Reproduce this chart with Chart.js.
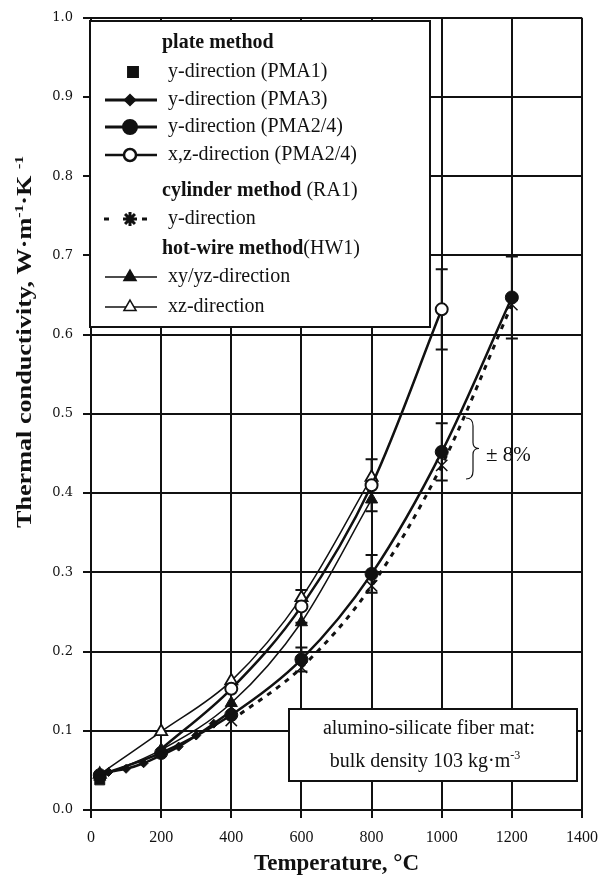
<!DOCTYPE html>
<html>
<head>
<meta charset="utf-8">
<script src="https://cdn.jsdelivr.net/npm/chart.js@4.4.1/dist/chart.umd.min.js"></script>
<style>
  html, body { margin: 0; padding: 0; background: #fff; }
  canvas { display: block; }
</style>
</head>
<body>
<canvas id="chart" width="601" height="876"></canvas>
<script>
// values: temperature (°C) and thermal conductivity (W/mK)
const pma1T = [25];
const pma1K = [0.038];

const pma3T = [50, 100, 150, 200, 250, 300, 350, 400];
const pma3K = [0.048, 0.052, 0.059, 0.069, 0.080, 0.094, 0.109, 0.125];

const pma24yT = [25, 200, 400, 600, 800, 1000, 1200];
const pma24yK = [0.044, 0.072, 0.120, 0.190, 0.298, 0.452, 0.647];

const pma24xzT = [200, 400, 600, 800, 1000];
const pma24xzK = [0.077, 0.153, 0.257, 0.410, 0.632];

const ra1T = [400, 600, 800, 1000, 1200];
const ra1K = [0.113, 0.180, 0.283, 0.435, 0.638];

const hwXyT = [25, 200, 400, 600, 800];
const hwXyK = [0.042, 0.076, 0.135, 0.237, 0.392];

const hwXzT = [25, 200, 400, 600, 800];
const hwXzK = [0.045, 0.099, 0.163, 0.268, 0.420];

// ±8 % error bars are drawn on these temperatures
const errTemps = [600, 800, 1000, 1200];
const errPct = 0.08;

const xTicks = [0, 200, 400, 600, 800, 1000, 1200, 1400];

const toPts = (T, K) => T.map((t, i) => ({x: t, y: K[i]}));
const ink = '#111';

const serif = '"Liberation Serif", "Times New Roman", serif';

function richWidth(ctx, parts, size, bold) {
    let total = 0;
    parts.forEach(p => {
        ctx.font = (bold ? 'bold ' : '') + (p[1] ? size * 0.6 : size) + 'px ' + serif;
        total += ctx.measureText(p[0]).width;
    });
    return total;
}

function drawRich(ctx, parts, x, y, size, bold) {
    // parts: [text, isSuperscript]
    const f = (s) => (bold ? 'bold ' : '') + s + 'px ' + serif;
    let cx = x - richWidth(ctx, parts, size, bold) / 2;
    ctx.textAlign = 'left';
    ctx.textBaseline = 'alphabetic';
    parts.forEach(p => {
        ctx.font = f(p[1] ? size * 0.6 : size);
        ctx.fillText(p[0], cx, p[1] ? y - size * 0.4 : y);
        cx += ctx.measureText(p[0]).width;
    });
}

const errorBars = {
    id: 'errorBars',
    beforeDatasetsDraw(chart) {
        const {ctx, scales: {x, y}} = chart;
        ctx.save();
        ctx.strokeStyle = ink;
        ctx.lineWidth = 2;
        [[pma24yT, pma24yK], [pma24xzT, pma24xzK]].forEach(([T, K]) => {
            T.forEach((t, i) => {
                if (!errTemps.includes(t)) return;
                const px = x.getPixelForValue(t);
                const hi = y.getPixelForValue(K[i] * (1 + errPct));
                const lo = y.getPixelForValue(K[i] * (1 - errPct));
                ctx.beginPath();
                ctx.moveTo(px, hi); ctx.lineTo(px, lo);
                ctx.moveTo(px - 6, hi); ctx.lineTo(px + 6, hi);
                ctx.moveTo(px - 6, lo); ctx.lineTo(px + 6, lo);
                ctx.stroke();
            });
        });
        ctx.restore();
    }
};

const legendRows = [
    {head: ['plate method', ''], y: 43},
    {label: 'y-direction (PMA1)', y: 72, style: 'rect', r: 7, fill: ink, line: 0},
    {label: 'y-direction (PMA3)', y: 100, style: 'rectRot', r: 4.5, fill: ink, line: 3},
    {label: 'y-direction (PMA2/4)', y: 127, style: 'circle', r: 6.5, fill: ink, line: 3},
    {label: 'x,z-direction (PMA2/4)', y: 155, style: 'circle', r: 6, fill: '#fff', line: 2.5},
    {head: ['cylinder method', ' (RA1)'], y: 191},
    {label: 'y-direction', y: 219, style: 'star', r: 7, fill: ink, line: 3, dash: true},
    {head: ['hot-wire method', '(HW1)'], y: 249},
    {label: 'xy/yz-direction', y: 277, style: 'triangle', r: 7, fill: ink, line: 1.5},
    {label: 'xz-direction', y: 307, style: 'triangle', r: 7, fill: '#fff', line: 1.5}
];

const boxes = {
    id: 'boxes',
    afterDatasetsDraw(chart) {
        const {ctx} = chart;
        ctx.save();
        // legend box
        ctx.fillStyle = '#fff';
        ctx.strokeStyle = ink;
        ctx.lineWidth = 2;
        ctx.fillRect(90, 21, 340, 306);
        ctx.strokeRect(90, 21, 340, 306);
        legendRows.forEach(r => {
            ctx.fillStyle = ink;
            ctx.textBaseline = 'middle';
            ctx.textAlign = 'left';
            if (r.head) {
                ctx.font = 'bold 20px ' + serif;
                ctx.fillText(r.head[0], 162, r.y);
                const w = ctx.measureText(r.head[0]).width;
                ctx.font = '20px ' + serif;
                ctx.fillText(r.head[1], 162 + w, r.y);
                return;
            }
            ctx.font = '20px ' + serif;
            ctx.fillText(r.label, 168, r.y);
            if (r.line) {
                ctx.beginPath();
                ctx.lineWidth = r.line;
                ctx.setLineDash(r.dash ? [5, 33] : []);
                ctx.moveTo(r.dash ? 104 : 105, r.y);
                ctx.lineTo(157, r.y);
                ctx.stroke();
                ctx.setLineDash([]);
            }
            ctx.fillStyle = r.fill;
            ctx.strokeStyle = ink;
            Chart.helpers.drawPoint(ctx, {pointStyle: r.style, radius: r.r, rotation: 0,
                borderWidth: r.style === 'star' ? 2 : (r.fill === ink ? 1 : 2)}, r.style === 'rect' ? 133 : 130, r.y);
        });

        // material box
        ctx.fillStyle = '#fff';
        ctx.lineWidth = 2;
        ctx.fillRect(289, 709, 288, 72);
        ctx.strokeRect(289, 709, 288, 72);
        ctx.fillStyle = ink;
        drawRich(ctx, [['alumino-silicate fiber mat:', false]], 429, 734, 20, false);
        drawRich(ctx, [['bulk density 103 kg·m', false], ['-3', true]], 425, 767, 20, false);

        // ±8 % brace
        ctx.strokeStyle = ink;
        ctx.lineWidth = 1.2;
        ctx.beginPath();
        const bx = 466, top = 418, bot = 479, mid = (top + bot) / 2;
        ctx.moveTo(bx, top);
        ctx.quadraticCurveTo(bx + 7, top, bx + 7, top + 8);
        ctx.lineTo(bx + 7, mid - 6);
        ctx.quadraticCurveTo(bx + 7, mid, bx + 13, mid);
        ctx.quadraticCurveTo(bx + 7, mid, bx + 7, mid + 6);
        ctx.lineTo(bx + 7, bot - 8);
        ctx.quadraticCurveTo(bx + 7, bot, bx, bot);
        ctx.stroke();
        ctx.font = '21px ' + serif;
        ctx.textAlign = 'left';
        ctx.textBaseline = 'middle';
        ctx.fillText('± 8%', 486, 455);
        ctx.restore();
    },
    afterDraw(chart) {
        const {ctx, chartArea} = chart;
        ctx.save();
        ctx.fillStyle = ink;
        drawRich(ctx, [['Temperature, °C', false]], (chartArea.left + chartArea.right) / 2, 870, 23, true);
        // y title: condensed serif, stretched to the length seen in the figure
        const yParts = [['Thermal conductivity, W·m', false], ['-1', true], ['·K ', false], ['-1', true]];
        const w = richWidth(ctx, yParts, 21, true);
        ctx.translate(31, 342);
        ctx.rotate(-Math.PI / 2);
        ctx.scale(372 / w, 1);
        drawRich(ctx, yParts, 0, 0, 21, true);
        ctx.restore();
    }
};

const base = {
    borderColor: ink,
    pointBorderColor: ink,
    cubicInterpolationMode: 'monotone',
    fill: false
};

new Chart(document.getElementById('chart'), {
    type: 'line',
    data: {
        datasets: [
            Object.assign({}, base, {label: 'y-direction (PMA1)', data: toPts(pma1T, pma1K), showLine: false,
                pointStyle: 'rect', pointRadius: 7, pointBackgroundColor: ink, pointBorderWidth: 1}),
            Object.assign({}, base, {label: 'y-direction (PMA3)', data: toPts(pma3T, pma3K), borderWidth: 2.5,
                pointStyle: 'rectRot', pointRadius: 4.5, pointBackgroundColor: ink, pointBorderWidth: 1}),
            Object.assign({}, base, {label: 'y-direction (PMA2/4)', data: toPts(pma24yT, pma24yK), borderWidth: 2.5,
                pointStyle: 'circle', pointRadius: 6.5, pointBackgroundColor: ink, pointBorderWidth: 1}),
            Object.assign({}, base, {label: 'x,z-direction (PMA2/4)', data: toPts(pma24xzT, pma24xzK), borderWidth: 2.5,
                pointStyle: 'circle', pointRadius: [0, 6, 6, 6, 6], pointBackgroundColor: '#fff', pointBorderWidth: 2}),
            Object.assign({}, base, {label: 'y-direction (RA1)', data: toPts(ra1T, ra1K), borderWidth: 3, borderDash: [5, 6],
                pointStyle: 'crossRot', pointRadius: 8, pointBorderWidth: 1.5}),
            Object.assign({}, base, {label: 'xy/yz-direction (HW1)', data: toPts(hwXyT, hwXyK), borderWidth: 1.5,
                pointStyle: 'triangle', pointRadius: 7, pointBackgroundColor: ink, pointBorderWidth: 1}),
            Object.assign({}, base, {label: 'xz-direction (HW1)', data: toPts(hwXzT, hwXzK), borderWidth: 1.5,
                pointStyle: 'triangle', pointRadius: 7, pointBackgroundColor: '#fff', pointBorderWidth: 1.8})
        ]
    },
    options: {
        responsive: false,
        animation: false,
        devicePixelRatio: 1,
        layout: {padding: {left: 0, right: 19, top: 12, bottom: 0}},
        plugins: {legend: {display: false}, tooltip: {enabled: false}},
        scales: {
            x: {
                type: 'linear', min: 0, max: 1400,
                afterBuildTicks: s => { s.ticks = xTicks.map(v => ({value: v})); },
                afterFit: s => { s.height = 66; s.paddingRight = 0; s.paddingLeft = 0; },
                grid: {color: ink, lineWidth: 2, tickLength: 8},
                border: {color: ink, width: 2},
                ticks: {color: ink, padding: 10, maxRotation: 0, callback: v => String(v),
                    font: {family: serif, size: 16}}
            },
            y: {
                min: 0, max: 1,
                afterFit: s => { s.width = 91; },
                grid: {color: ink, lineWidth: 2, tickLength: 8},
                border: {color: ink, width: 2},
                ticks: {stepSize: 0.1, color: ink, padding: 10, callback: v => v.toFixed(1),
                    font: {family: '"DejaVu Serif", serif', size: 13}}
            }
        }
    },
    plugins: [errorBars, boxes]
});
</script>
</body>
</html>
